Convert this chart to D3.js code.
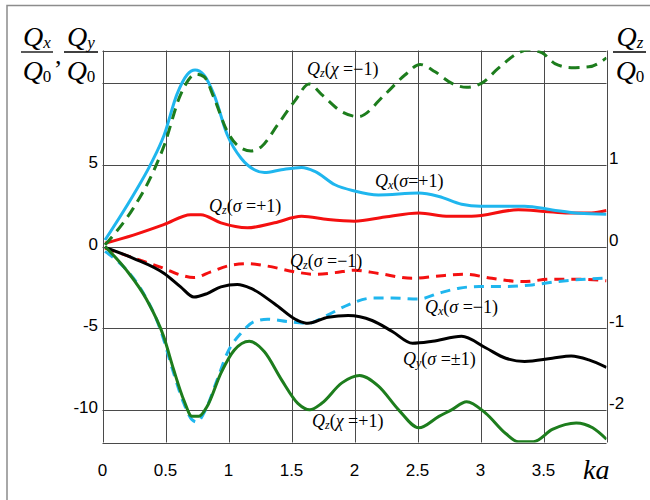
<!DOCTYPE html>
<html>
<head>
<meta charset="utf-8">
<script src="https://cdn.jsdelivr.net/npm/d3@7"></script>
<style>
  body { margin: 0; background: #fff; }
  svg { display: block; }
</style>
</head>
<body>
<svg id="chart" width="650" height="500"></svg>
<script>
// ---- data (ka on x, Q/Q0 on y) ----
var xTicks = [0, 0.5, 1, 1.5, 2, 2.5, 3, 3.5];
var leftTicks = [-10, -5, 0, 5];
var rightTicks = [-2, -1, 0, 1];

// left axis series
var qxPlusKa  = [0.02, 0.245, 0.38, 0.49, 0.59, 0.67, 0.735, 0.805, 0.885, 0.99, 1.1, 1.205, 1.285, 1.42, 1.58, 1.685, 1.845, 2.0, 2.19, 2.51, 2.67, 2.85, 3.0, 3.35, 3.57, 3.78, 4.0];
var qxPlusVal = [0.4, 3.16, 5.0, 6.84, 9.3, 10.5, 10.8, 10.5, 9.3, 6.84, 5.4, 4.7, 4.53, 4.7, 4.84, 4.6, 3.78, 3.4, 3.16, 3.27, 3.06, 2.59, 2.47, 2.47, 2.24, 2.04, 1.98];

var qxMinusKa  = [0.02, 0.19, 0.325, 0.46, 0.565, 0.645, 0.71, 0.75, 0.805, 0.91, 0.99, 1.1, 1.205, 1.31, 1.47, 1.63, 1.79, 1.95, 2.14, 2.3, 2.51, 2.67, 2.83, 2.99, 3.2, 3.41, 3.62, 3.83, 4.0];
var qxMinusVal = [-0.3, -1.43, -2.86, -5.1, -7.76, -9.6, -10.6, -10.75, -10.2, -8.16, -6.53, -5.3, -4.6, -4.45, -4.6, -4.7, -4.18, -3.57, -3.16, -3.16, -3.22, -2.86, -2.55, -2.45, -2.45, -2.35, -2.14, -2.0, -1.94];

var qyKa  = [0.02, 0.245, 0.49, 0.62, 0.725, 0.83, 0.94, 1.07, 1.18, 1.365, 1.55, 1.63, 1.79, 1.95, 2.14, 2.3, 2.46, 2.62, 2.85, 3.04, 3.2, 3.35, 3.57, 3.72, 3.86, 4.0];
var qyVal = [-0.05, -0.72, -1.65, -2.47, -3.09, -2.88, -2.47, -2.33, -2.57, -3.5, -4.53, -4.7, -4.33, -4.23, -4.53, -5.2, -5.92, -5.8, -5.5, -6.2, -6.84, -7.04, -6.84, -6.7, -6.94, -7.4];

// right axis series (Qz/Q0)
var qzSigPlusKa  = [0.02, 0.245, 0.49, 0.7, 0.78, 0.94, 1.15, 1.365, 1.58, 1.79, 2.0, 2.24, 2.51, 2.75, 2.93, 3.3, 3.51, 3.7, 3.88, 4.0];
var qzSigPlusVal = [0.04, 0.14, 0.27, 0.39, 0.39, 0.29, 0.23, 0.29, 0.37, 0.33, 0.31, 0.36, 0.41, 0.37, 0.37, 0.45, 0.43, 0.41, 0.41, 0.44];

var qzSigMinusKa  = [0.02, 0.245, 0.49, 0.62, 0.725, 0.86, 0.99, 1.15, 1.31, 1.525, 1.685, 1.845, 2.0, 2.19, 2.46, 2.67, 2.88, 3.09, 3.33, 3.57, 3.78, 4.0];
var qzSigMinusVal = [-0.02, -0.14, -0.27, -0.35, -0.38, -0.31, -0.24, -0.21, -0.24, -0.31, -0.34, -0.32, -0.29, -0.33, -0.39, -0.36, -0.34, -0.39, -0.43, -0.4, -0.4, -0.42];

var qzChiMinusKa  = [0.02, 0.245, 0.38, 0.49, 0.62, 0.74, 0.805, 0.885, 0.99, 1.07, 1.18, 1.26, 1.39, 1.525, 1.64, 1.74, 1.9, 2.03, 2.24, 2.4, 2.52, 2.64, 2.77, 2.89, 3.01, 3.14, 3.3, 3.38, 3.49, 3.59, 3.72, 3.86, 4.0];
var qzChiMinusVal = [0.02, 0.47, 0.84, 1.24, 1.86, 2.11, 2.08, 1.82, 1.41, 1.24, 1.17, 1.22, 1.49, 1.78, 1.99, 1.86, 1.65, 1.59, 1.86, 2.1, 2.23, 2.14, 2.0, 1.95, 2.0, 2.18, 2.37, 2.41, 2.37, 2.24, 2.19, 2.2, 2.31];

var qzChiPlusKa  = [0.02, 0.19, 0.35, 0.485, 0.565, 0.645, 0.71, 0.765, 0.83, 0.94, 1.045, 1.165, 1.285, 1.42, 1.55, 1.645, 1.74, 1.9, 2.04, 2.19, 2.35, 2.51, 2.67, 2.77, 2.89, 3.04, 3.2, 3.3, 3.42, 3.57, 3.76, 3.89, 4.0];
var qzChiPlusVal = [0, -0.29, -0.65, -1.1, -1.51, -1.88, -2.08, -2.08, -1.96, -1.55, -1.27, -1.16, -1.29, -1.63, -1.92, -2.0, -1.92, -1.67, -1.58, -1.71, -2.0, -2.22, -2.08, -2.0, -1.9, -2.04, -2.29, -2.39, -2.39, -2.24, -2.16, -2.22, -2.36];

var SANS = "'Liberation Sans', Arial, sans-serif",
    SERIF = "'Liberation Serif', 'Times New Roman', 'DejaVu Serif', serif";

var svg = d3.select("#chart");

var x = d3.scaleLinear().domain([0, 4]).range([102.5, 606.5]),
    yL = d3.scaleLinear().domain([-12, 12]).range([442.5, 50.5]),
    yR = d3.scaleLinear().domain([-2.4, 2.4]).range([442.5, 50.5]);

// outer frame (only top / left edges are visible)
svg.append("path")
    .attr("d", "M7,500 V5.5 H650")
    .attr("fill", "none")
    .attr("stroke", "#8c8c8c")
    .attr("stroke-width", 1.5);

// grid
var grid = svg.append("g").attr("stroke", "#4a4a4a").attr("stroke-width", 1);
grid.selectAll("line.v")
    .data(d3.range(0, 4.01, 0.5))
    .enter().append("line")
    .attr("x1", d => Math.round(x(d)) + 0.5).attr("x2", d => Math.round(x(d)) + 0.5)
    .attr("y1", yL(12)).attr("y2", yL(-12));
grid.selectAll("line.h")
    .data([-12, -10, -5, 0, 5, 10, 12])
    .enter().append("line")
    .attr("x1", x(0)).attr("x2", x(4))
    .attr("y1", d => Math.round(yL(d)) + 0.5).attr("y2", d => Math.round(yL(d)) + 0.5);

// tick labels
function tickText(g) {
    return g.attr("font-family", SANS).attr("font-size", 17).attr("fill", "#000");
}
svg.append("g").call(tickText).selectAll("text")
    .data(xTicks).enter().append("text")
    .attr("x", d => x(d)).attr("y", 476)
    .attr("text-anchor", "middle")
    .text(d => d);

svg.append("g").call(tickText).selectAll("text")
    .data(leftTicks).enter().append("text")
    .attr("x", 98).attr("y", d => yL(d) + 3)
    .attr("text-anchor", "end")
    .text(d => d);

svg.append("g").call(tickText).selectAll("text")
    .data(rightTicks).enter().append("text")
    .attr("x", 609).attr("y", d => yR(d) - 1)
    .text(d => d);

// curves
svg.append("clipPath").attr("id", "plot")
    .append("rect").attr("x", x(0)).attr("y", yL(12)).attr("width", x(4) - x(0)).attr("height", yL(-12) - yL(12));

function curve(kas, vals, yScale, color, dash) {
    var line = d3.line()
        .curve(d3.curveMonotoneX)
        .x(d => x(d[0]))
        .y(d => yScale(d[1]));
    svg.append("path")
        .datum(d3.zip(kas, vals))
        .attr("clip-path", "url(#plot)")
        .attr("d", line)
        .attr("fill", "none")
        .attr("stroke", color)
        .attr("stroke-width", 3)
        .attr("stroke-linecap", "butt")
        .attr("stroke-dasharray", dash || null);
}

var cyan = "#1fb6ee", red = "#f41010", green = "#1d7d1d";
curve(qzSigPlusKa, qzSigPlusVal, yR, red);
curve(qzSigMinusKa, qzSigMinusVal, yR, red, "10,7");
curve(qxMinusKa, qxMinusVal, yL, cyan, "10,7");
curve(qyKa, qyVal, yL, "#000");
curve(qxPlusKa, qxPlusVal, yL, cyan);
curve(qzChiPlusKa, qzChiPlusVal, yR, green);
curve(qzChiMinusKa, qzChiMinusVal, yR, green, "11,7");

// curve labels: [x, y, subscript, symbol, rest]
var labels = [
    [307, 75, "z", "\u03C7", " =\u22121)"],
    [375, 187, "x", "\u03C3", "=+1)"],
    [209, 212, "z", "\u03C3", " =+1)"],
    [290, 267, "z", "\u03C3", " =\u22121)"],
    [425, 313, "x", "\u03C3", " =\u22121)"],
    [403, 365, "y", "\u03C3", " =\u00B11)"],
    [312, 427, "z", "\u03C7", " =+1)"]
];
labels.forEach(function (l) {
    var t = svg.append("text")
        .attr("font-family", SERIF).attr("font-size", 18).attr("fill", "#000")
        .attr("x", l[0]).attr("y", l[1]);
    t.append("tspan").attr("font-style", "italic").text("Q");
    t.append("tspan").attr("font-style", "italic").attr("font-size", 12).attr("dy", 2).text(l[2]);
    t.append("tspan").attr("dy", -2).text("(");
    t.append("tspan").attr("font-style", "italic").text(l[3]);
    t.append("tspan").text(l[4]);
});

// axis titles as fractions
function fraction(cx, sub, bar0, bar1) {
    var g = svg.append("g").attr("font-family", SERIF).attr("fill", "#000");
    var num = g.append("text").attr("font-size", 28)
        .attr("x", cx).attr("y", 46).attr("text-anchor", "middle");
    num.append("tspan").attr("font-style", "italic").text("Q");
    num.append("tspan").attr("font-style", "italic").attr("font-size", 17).attr("dy", 2).text(sub);
    g.append("line").attr("x1", bar0).attr("x2", bar1).attr("y1", 52).attr("y2", 52)
        .attr("stroke", "#000").attr("stroke-width", 1.3);
    var den = g.append("text").attr("font-size", 28)
        .attr("x", cx).attr("y", 80).attr("text-anchor", "middle");
    den.append("tspan").attr("font-style", "italic").text("Q");
    den.append("tspan").attr("font-size", 17).attr("dy", 2).text("0");
}
fraction(37, "x", 21, 53);
fraction(81, "y", 64, 98);
fraction(630, "z", 613, 646);
svg.append("text").attr("font-family", SERIF).attr("font-size", 26)
    .attr("x", 55).attr("y", 64).text(",");

svg.append("text").attr("font-family", SERIF).attr("font-size", 28)
    .attr("font-style", "italic")
    .attr("x", 583).attr("y", 479).text("ka");
</script>
</body>
</html>
